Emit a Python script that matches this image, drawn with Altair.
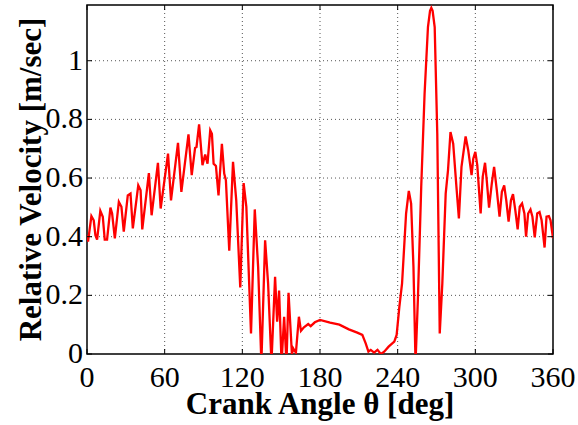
import altair as alt
import pandas as pd

# Crank angle [deg] and relative velocity [m/sec]
angle = [
    0, 0.8, 3.4, 5.2, 6.5, 7.8, 10.3, 12.2, 13.7, 15.5, 18.1, 19.4, 21.5, 24.6, 26.6,
    28.4, 31.5, 33.6, 35.4, 39.6, 41.4, 42.7, 47.8, 49.9, 54.8, 56.9, 62.6, 64.9,
    70.3, 72.9, 78.4, 80.9, 83.5, 84.6, 86.6, 89.2, 91.3, 93.1, 95.2, 96.5, 97.8,
    99.6, 101.6, 104.2, 106.0, 107.3, 109.9,
    112.8, 115.3, 118.4, 121.0, 123.1, 126.7, 129.6, 132.2, 134.7, 137.6, 139.9,
    142.5, 145.3, 146.9, 148.4, 150.3, 152.3, 154.1, 155.7, 158.3, 159.3, 160.5,
    161.4, 163.7, 165.3, 167.6, 170.9, 172.8, 176.0, 180.0, 187.8, 195.0,
    202.3, 208.8, 212.7, 215.3, 217.4, 219.2, 221.8, 224.4, 227.0, 229.6, 233.0,
    237.4, 239.2, 241.3, 243.4, 246.5, 248.6, 250.4, 252.2, 253.8, 255.6, 258.2,
    260.8, 262.2, 263.4, 265.0, 266.0, 267.0, 268.6, 270.6, 272.5, 274.5, 277.1,
    278.9, 280.8, 282.9, 285.4, 287.3, 289.3, 292.5, 294.5, 297.1, 298.4, 300.0,
    301.5, 304.1, 305.7, 307.5, 308.8, 310.6, 312.7, 314.5, 316.6, 318.7, 320.5,
    322.3, 323.9, 325.7, 327.5, 329.1, 330.9, 332.7, 334.3, 336.1, 337.9, 339.2,
    340.8, 342.6, 344.1, 345.9, 347.8, 349.6, 351.2, 353.5, 355.0, 356.8, 358.1,
    360.0,
]
velocity = [
    0.405, 0.383, 0.470, 0.456, 0.405, 0.390, 0.488, 0.468, 0.390, 0.390, 0.499,
    0.479, 0.394, 0.519, 0.502, 0.417, 0.541, 0.547, 0.428, 0.575, 0.558, 0.425,
    0.617, 0.473, 0.652, 0.496, 0.683, 0.524, 0.720, 0.553, 0.749, 0.610, 0.703,
    0.706, 0.783, 0.644, 0.680, 0.649, 0.763, 0.751, 0.649, 0.641, 0.541, 0.717,
    0.615, 0.593, 0.352,
    0.655, 0.524, 0.227, 0.583, 0.502, 0.070, 0.493, 0.297, -0.03, 0.388, 0.241,
    -0.03, 0.263, 0.110, 0.216, -0.03, 0.127, -0.03, 0.209, 0.0, 0.019, 0.010,
    0.005, 0.127, 0.079, 0.091, 0.102, 0.095, 0.108, 0.116, 0.107, 0.100,
    0.084, 0.073, 0.065, 0.036, 0.008, 0.014, 0.005, 0.014, 0.0, 0.008, 0.025,
    0.042, 0.065, 0.161, 0.241, 0.479, 0.556, 0.513, 0.297, -0.03, 0.184, 0.570,
    0.888, 1.010, 1.115, 1.170, 1.180, 1.170, 1.115, 0.751, 0.070, 0.241, 0.547,
    0.627, 0.757, 0.717, 0.570, 0.462, 0.638, 0.742, 0.695, 0.610, 0.666, 0.689,
    0.644, 0.479, 0.604, 0.652, 0.593, 0.499, 0.581, 0.638, 0.558, 0.468, 0.553,
    0.575, 0.524, 0.451, 0.524, 0.545, 0.490, 0.425, 0.502, 0.513, 0.479, 0.400,
    0.479, 0.493, 0.468, 0.398, 0.479, 0.484, 0.456, 0.363, 0.468, 0.470, 0.456,
    0.395,
]

x_ticks = [0, 60, 120, 180, 240, 300, 360]
x_tick_labels = ["0", "60", "120", "180", "240", "300", "360"]
y_ticks = [0, 0.2, 0.4, 0.6, 0.8, 1.0]
y_tick_labels = ["0", "0.2", "0.4", "0.6", "0.8", "1"]
x_title = "Crank Angle θ [deg]"
y_title = "Relative Velocity [m/sec]"

FONT = "'Liberation Serif', 'Times New Roman', serif"
W, H = 466, 349

df = pd.DataFrame({"angle": angle, "velocity": velocity})
xt = pd.DataFrame({"angle": x_ticks, "label": x_tick_labels})
yt = pd.DataFrame({"velocity": y_ticks, "label": y_tick_labels})
xgrid = xt.iloc[1:-1]
ygrid = yt.iloc[1:]

xscale = alt.Scale(domain=[0, 360], nice=False, zero=False)
yscale = alt.Scale(domain=[0, 1.19], nice=False, zero=False)

grid_style = dict(color="#555", strokeWidth=1, strokeDash=[1, 3])

x_grid = alt.Chart(xgrid).mark_rule(**grid_style).encode(
    x=alt.X("angle:Q", scale=xscale, axis=None), y=alt.value(0), y2=alt.value(H)
)
y_grid = alt.Chart(ygrid).mark_rule(**grid_style).encode(
    y=alt.Y("velocity:Q", scale=yscale, axis=None), x=alt.value(0), x2=alt.value(W)
)

line = alt.Chart(df).mark_line(color="#ff0000", strokeWidth=2.3, clip=True).encode(
    x=alt.X("angle:Q", scale=xscale, axis=None),
    y=alt.Y("velocity:Q", scale=yscale, axis=None),
)

tick_len = 5
bottom_ticks = alt.Chart(xt).mark_rule(color="#000", strokeWidth=1).encode(
    x=alt.X("angle:Q", scale=xscale, axis=None), y=alt.value(H), y2=alt.value(H - tick_len)
)
top_ticks = alt.Chart(xt).mark_rule(color="#000", strokeWidth=1).encode(
    x=alt.X("angle:Q", scale=xscale, axis=None), y=alt.value(0), y2=alt.value(tick_len)
)
left_ticks = alt.Chart(yt).mark_rule(color="#000", strokeWidth=1).encode(
    y=alt.Y("velocity:Q", scale=yscale, axis=None), x=alt.value(0), x2=alt.value(tick_len)
)
right_ticks = alt.Chart(yt).mark_rule(color="#000", strokeWidth=1).encode(
    y=alt.Y("velocity:Q", scale=yscale, axis=None), x=alt.value(W), x2=alt.value(W - tick_len)
)

x_labels = alt.Chart(xt).mark_text(
    font=FONT, fontSize=30, color="#000", align="center", baseline="alphabetic"
).encode(
    x=alt.X("angle:Q", scale=xscale, axis=None), y=alt.value(H + 33), text="label:N"
)
y_labels = alt.Chart(yt).mark_text(
    font=FONT, fontSize=30, color="#000", align="right", baseline="middle"
).encode(
    y=alt.Y("velocity:Q", scale=yscale, axis=None), x=alt.value(-4), text="label:N"
)

x_title_mark = alt.Chart(pd.DataFrame({"t": [x_title]})).mark_text(
    font=FONT, fontSize=31, fontWeight="bold", color="#000", align="center", baseline="alphabetic"
).encode(x=alt.value(W / 2), y=alt.value(H + 60), text="t:N")

y_title_mark = alt.Chart(pd.DataFrame({"t": [y_title]})).mark_text(
    font=FONT, fontSize=31, fontWeight="bold", color="#000", align="center",
    baseline="alphabetic", angle=270,
).encode(x=alt.value(-46), y=alt.value(H / 2), text="t:N")

chart = (
    alt.layer(
        x_grid, y_grid, line, bottom_ticks, top_ticks, left_ticks, right_ticks,
        x_labels, y_labels, x_title_mark, y_title_mark,
    )
    .properties(
        width=W,
        height=H,
        autosize=alt.AutoSizeParams(type="none"),
        padding={"left": 87, "top": 5, "right": 25, "bottom": 71},
        background="white",
    )
    .configure(font=FONT)
    .configure_view(stroke="#000", strokeWidth=1.5)
)

chart.save("out.html", embed_options={"renderer": "svg", "actions": False})
